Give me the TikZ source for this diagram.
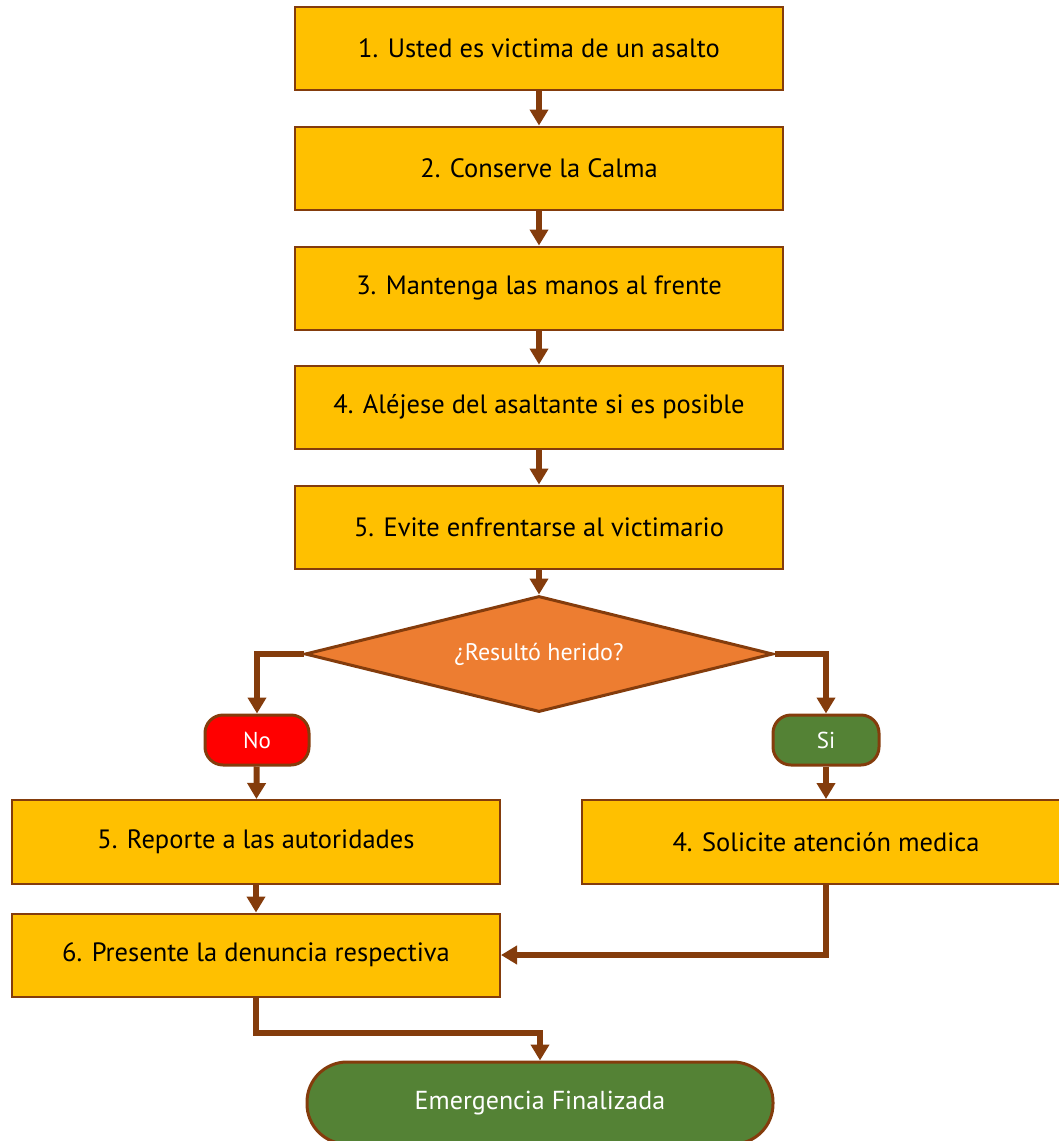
\documentclass[tikz,border=0pt]{standalone}
\usepackage{fontspec}
\setmainfont{PT Sans}
\usetikzlibrary{shapes.geometric,arrows.meta}
\definecolor{brn}{HTML}{843C0C}
\definecolor{gold}{HTML}{FFC000}
\definecolor{orng}{HTML}{ED7D31}
\definecolor{grn}{HTML}{548235}
\definecolor{rd}{HTML}{FF0000}
\tikzset{
  stepbox/.style={draw=brn, line width=2pt, fill=gold, minimum width=488pt, minimum height=83pt, inner sep=0pt, font=\fontsize{26.5}{30}\selectfont},
  decide/.style={draw=brn, line width=3pt, fill=orng, shape=diamond, aspect=4.03, minimum width=468pt, minimum height=116pt, inner sep=0pt, text=white, font=\fontsize{24}{28}\selectfont},
  pill/.style={draw=brn, line width=3pt, rounded corners=18pt, minimum width=104pt, minimum height=50pt, inner sep=0pt, text=white, font=\fontsize{23}{27}\selectfont},
  term/.style={draw=brn, line width=3pt, fill=grn, rounded corners=40pt, minimum width=466pt, minimum height=82pt, inner sep=0pt, text=white, font=\fontsize{26}{30}\selectfont},
  conn/.style={draw=brn, line width=6pt, -{Triangle[length=16pt,width=18pt]}},
}
\begin{document}
\begin{tikzpicture}[x=1pt,y=-1pt]
\useasboundingbox (0,0) rectangle (1059,1141);
\node[stepbox] (b1) at (539,48) {1. Usted es victima de un asalto};
\node[stepbox] (b2) at (539,168) {2. Conserve la Calma};
\node[stepbox] (b3) at (539,288) {3. Mantenga las manos al frente};
\node[stepbox] (b4) at (539,407) {4. Aléjese del asaltante si es posible};
\node[stepbox] (b5) at (539,527) {5. Evite enfrentarse al victimario};
\node[decide] (d) at (539,654) {¿Resultó herido?};
\node[pill, fill=rd] (no) at (257,740) {No};
\node[pill, fill=grn, minimum width=106pt] (si) at (826,740) {Si};
\node[stepbox, minimum height=84pt] (r5) at (256,842) {5. Reporte a las autoridades};
\node[stepbox, minimum height=84pt] (r4) at (826,842) {4. Solicite atención medica};
\node[stepbox] (b6) at (256,955) {6. Presente la denuncia respectiva};
\node[term] (e) at (540,1103) {Emergencia Finalizada};
\coordinate (m) at (256,1033);
\draw[conn] (b1) -- (b2);
\draw[conn] (b2) -- (b3);
\draw[conn] (b3) -- (b4);
\draw[conn] (b4) -- (b5);
\draw[conn] (b5) -- (d);
\draw[conn] (d.west) -| (no.north);
\draw[conn] (d.east) -| (si.north);
\draw[conn] (no) -- (r5);
\draw[conn] (si) -- (r4);
\draw[conn] (r5) -- (b6);
\draw[conn] (r4.south) |- (b6.east);
\draw[conn] (b6.south) -- (m) -| (e.north);
\end{tikzpicture}
\end{document}
